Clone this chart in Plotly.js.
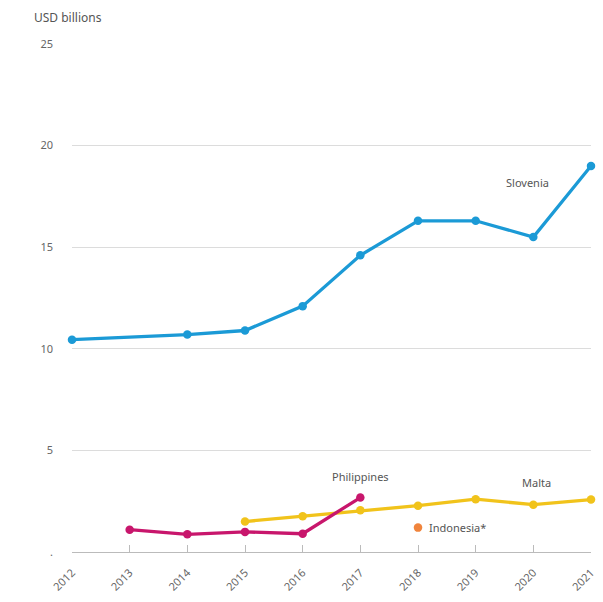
<!DOCTYPE html>
<html><head><meta charset="utf-8">
<script src="https://cdn.plot.ly/plotly-3.0.1.min.js"></script>
<style>html,body{margin:0;padding:0;background:#fff}#chart{width:603px;height:602px}</style>
</head><body><div id="chart"></div>
<script>
const sloveniaYears = [2012, 2014, 2015, 2016, 2017, 2018, 2019, 2020, 2021];
const sloveniaValues = [10.45, 10.7, 10.9, 12.1, 14.6, 16.3, 16.3, 15.5, 19.0];
const philippinesYears = [2013, 2014, 2015, 2016, 2017];
const philippinesValues = [1.1, 0.87, 0.99, 0.9, 2.68];
const maltaYears = [2015, 2016, 2017, 2018, 2019, 2020, 2021];
const maltaValues = [1.5, 1.76, 2.05, 2.28, 2.6, 2.33, 2.58];
const indonesiaYears = [2018];
const indonesiaValues = [1.2];
const yearTicks = [2012, 2013, 2014, 2015, 2016, 2017, 2018, 2019, 2020, 2021];
const yTickVals = [0, 5, 10, 15, 20, 25];
const yTickText = ['.', '5', '10', '15', '20', '25'];

const FONT = 'Noto Sans, Open Sans, sans-serif';
const mk = (x, y, color, name) => ({
  x, y, name, type: 'scatter', mode: 'lines+markers', cliponaxis: false,
  line: {color, width: 3.3}, marker: {color, size: 8.5}
});
const data = [
  mk(sloveniaYears, sloveniaValues, '#1b9ad6', 'Slovenia'),
  mk(maltaYears, maltaValues, '#f1c31b', 'Malta'),
  mk(philippinesYears, philippinesValues, '#c8166c', 'Philippines'),
  {x: indonesiaYears, y: indonesiaValues, name: 'Indonesia*', type: 'scatter', mode: 'markers',
   cliponaxis: false, marker: {color: '#f0843c', size: 8.5}}
];
const ann = (x, y, text, xanchor) => ({x, y, text, xref: 'x', yref: 'y', showarrow: false,
  xanchor: xanchor || 'center', yanchor: 'middle', font: {family: FONT, size: 11, color: '#555'}});
const layout = {
  width: 603, height: 602,
  margin: {l: 72, r: 12, t: 44, b: 50},
  paper_bgcolor: '#fff', plot_bgcolor: '#fff',
  showlegend: false,
  font: {family: FONT, color: '#666'},
  xaxis: {
    range: [2012, 2021], tickvals: yearTicks, ticktext: yearTicks.map(String),
    tickangle: -45, showgrid: false, zeroline: false,
    showline: true, linecolor: '#bbb', linewidth: 1,
    ticks: 'inside', ticklen: 7, tickcolor: '#bbb', ticklabelstandoff: 9,
    tickfont: {family: FONT, size: 11, color: '#666'}
  },
  yaxis: {
    range: [0, 25], tickvals: yTickVals, ticktext: yTickText,
    showgrid: true, gridcolor: '#dcdcdc', gridwidth: 1, zeroline: false,
    showline: false, ticks: '', ticklabelstandoff: 18,
    tickfont: {family: FONT, size: 11, color: '#666'}
  },
  annotations: [
    {xref: 'paper', yref: 'paper', x: -0.077, y: 1.052, xanchor: 'left', yanchor: 'middle',
     text: 'USD billions', showarrow: false, font: {family: FONT, size: 12, color: '#555'}},
    ann(2019.9, 18.2, 'Slovenia'),
    ann(2017.0, 3.7, 'Philippines'),
    ann(2020.05, 3.4, 'Malta'),
    ann(2018.15, 1.2, 'Indonesia*', 'left')
  ]
};
Plotly.newPlot('chart', data, layout, {displayModeBar: false, staticPlot: true});
</script>
</body></html>
